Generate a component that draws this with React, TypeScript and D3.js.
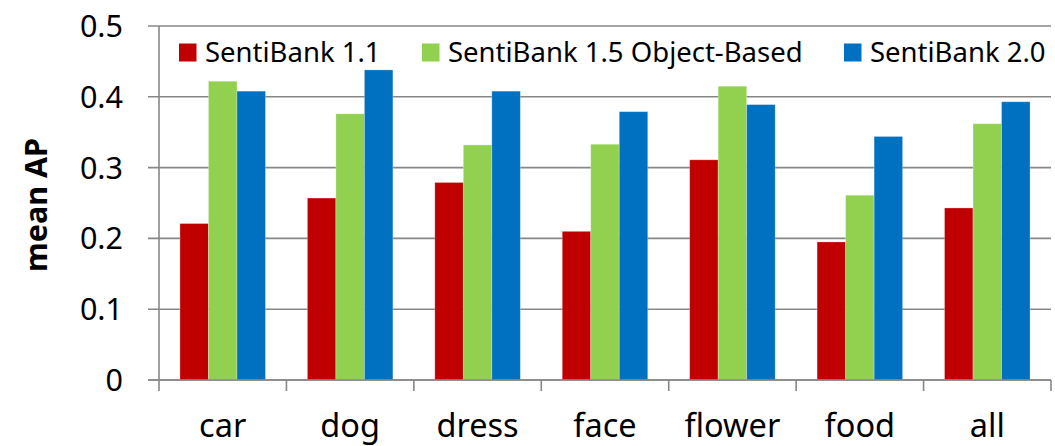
import React from "react";
import * as d3 from "d3";

const categories = ["car", "dog", "dress", "face", "flower", "food", "all"];
const seriesNames = ["SentiBank 1.1", "SentiBank 1.5 Object-Based", "SentiBank 2.0"];
const sentiBank11 = [0.221, 0.257, 0.279, 0.21, 0.311, 0.195, 0.243];
const sentiBank15 = [0.422, 0.376, 0.332, 0.333, 0.415, 0.261, 0.362];
const sentiBank20 = [0.408, 0.438, 0.408, 0.379, 0.389, 0.344, 0.393];
const yTicks = [0, 0.1, 0.2, 0.3, 0.4, 0.5];
const colors = ["#C00000", "#92D050", "#0070C0"];

const W = 1055;
const H = 446;
const left = 159;
const right = 1051;
const top = 26;
const bottom = 380;
const FONT = "'Noto Sans', sans-serif";

export default function App() {
  const values = [sentiBank11, sentiBank15, sentiBank20];
  const x0 = d3.scaleBand<string>().domain(categories).range([left, right]).padding(0);
  const x1 = d3
    .scaleBand<string>()
    .domain(seriesNames)
    .range([0, x0.bandwidth()])
    .paddingInner(0)
    .paddingOuter(0.735);
  const y = d3.scaleLinear().domain([0, 0.5]).range([bottom, top]);
  const gridColor = "#878787";

  const legendX = [179, 422, 844];

  return (
    <svg
      width={W}
      height={H}
      style={{ position: "absolute", left: 0, top: 0, background: "#fff" }}
      fontFamily={FONT}
    >
      <rect x={0} y={0} width={W} height={H} fill="#fff" />
      {yTicks.map((t) => (
        <g key={t}>
          <line
            x1={148}
            x2={right}
            y1={y(t)}
            y2={y(t)}
            stroke={gridColor}
            strokeWidth={1.6}
          />
          <text
            x={123}
            y={y(t) + 11}
            textAnchor="end"
            fontSize={30.5}
            fill="#000"
          >
            {t === 0 ? "0" : d3.format(".1f")(t)}
          </text>
        </g>
      ))}
      {categories.map((c, i) => (
        <g key={c} transform={`translate(${x0(c)},0)`}>
          {seriesNames.map((s, j) => (
            <rect
              key={s}
              x={x1(s)}
              y={y(values[j][i])}
              width={x1.bandwidth()}
              height={bottom - y(values[j][i])}
              fill={colors[j]}
              stroke="#ffffff"
              strokeOpacity={0.35}
              strokeWidth={0.8}
            />
          ))}
        </g>
      ))}
      <line x1={left} x2={left} y1={top} y2={bottom} stroke={gridColor} strokeWidth={1.6} />
      <line x1={148} x2={right} y1={bottom} y2={bottom} stroke={gridColor} strokeWidth={1.6} />
      {categories.map((c) => (
        <line
          key={"t" + c}
          x1={x0(c)!}
          x2={x0(c)!}
          y1={bottom}
          y2={391}
          stroke={gridColor}
          strokeWidth={1.6}
        />
      ))}
      <line x1={right} x2={right} y1={bottom} y2={391} stroke={gridColor} strokeWidth={1.6} />
      {categories.map((c) => (
        <text
          key={"l" + c}
          x={x0(c)! + x0.bandwidth() / 2}
          y={437}
          textAnchor="middle"
          fontSize={32.5}
          fill="#000"
        >
          {c}
        </text>
      ))}
      <text
        transform={`translate(47,${(top + bottom) / 2 + 2}) rotate(-90)`}
        textAnchor="middle"
        fontSize={30.5}
        fontWeight="bold"
        fill="#000"
      >
        mean AP
      </text>
      {seriesNames.map((s, j) => (
        <g key={"lg" + s}>
          <rect x={legendX[j]} y={43.5} width={17.5} height={18} fill={colors[j]} />
          <text x={legendX[j] + 26} y={62} fontSize={27.5} fill="#000">
            {s}
          </text>
        </g>
      ))}
    </svg>
  );
}
